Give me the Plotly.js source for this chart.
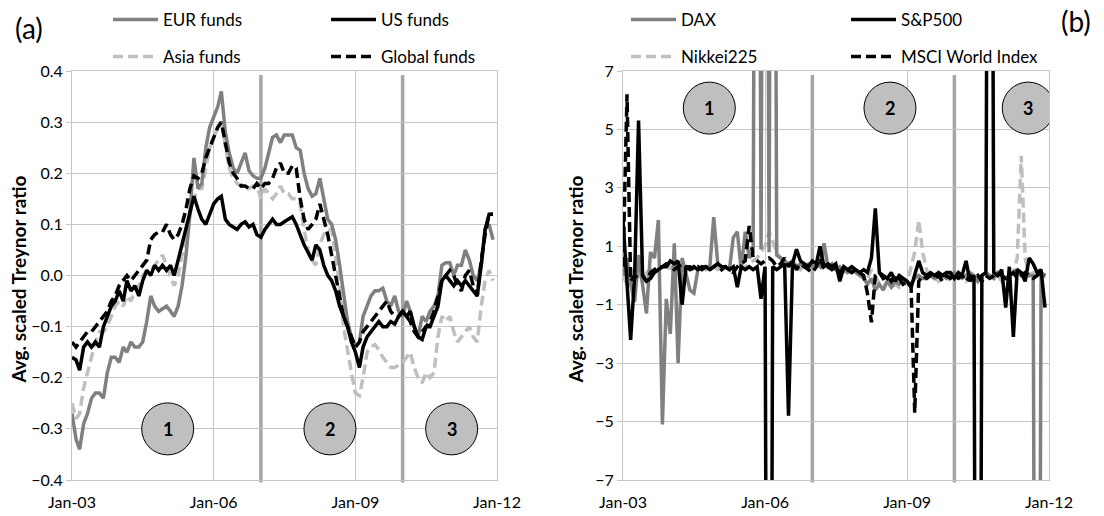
<!DOCTYPE html>
<html>
<head>
<meta charset="utf-8">
<script src="https://cdn.plot.ly/plotly-3.0.1.min.js"></script>
<style>
  html, body { margin: 0; padding: 0; background: #ffffff; }
  #chart { width: 1104px; height: 516px; }
</style>
</head>
<body>
<div id="chart"></div>
<script>
// Monthly observations, Jan 2003 – Dec 2011 (one row per year)
const startYear = 2003;
const monthCount = 108;

// Panel (a): fund averages
const eurFunds = [
  -0.27,-0.32,-0.34,-0.29,-0.27,-0.24,-0.23,-0.23,-0.24,-0.19,-0.16,-0.16,
  -0.17,-0.14,-0.15,-0.13,-0.14,-0.14,-0.13,-0.09,-0.04,-0.06,-0.07,-0.065,
  -0.06,-0.07,-0.08,-0.06,-0.02,0.04,0.12,0.23,0.17,0.18,0.25,0.29,
  0.31,0.33,0.36,0.28,0.24,0.21,0.20,0.22,0.24,0.205,0.195,0.19,
  0.19,0.21,0.24,0.27,0.275,0.26,0.275,0.275,0.275,0.25,0.245,0.20,
  0.17,0.155,0.16,0.19,0.15,0.11,0.10,0.07,0.02,-0.04,-0.09,-0.12,
  -0.14,-0.13,-0.08,-0.06,-0.04,-0.03,-0.03,-0.025,-0.05,-0.06,-0.04,-0.07,
  -0.08,-0.05,-0.07,-0.10,-0.12,-0.08,-0.09,-0.07,-0.06,-0.04,0.02,0.025,
  0.025,0.0,0.02,0.02,0.05,0.03,0.0,-0.01,0.02,0.09,0.10,0.07
];
const usFunds = [
  -0.16,-0.165,-0.185,-0.14,-0.13,-0.14,-0.13,-0.14,-0.10,-0.08,-0.06,-0.05,
  -0.03,-0.05,-0.01,-0.03,-0.02,-0.04,-0.01,0.01,0.0,0.02,0.01,0.02,
  0.01,0.02,0.0,0.03,0.06,0.09,0.12,0.155,0.13,0.11,0.10,0.12,
  0.14,0.15,0.155,0.11,0.10,0.095,0.09,0.10,0.105,0.095,0.10,0.08,
  0.075,0.09,0.10,0.11,0.10,0.10,0.105,0.11,0.115,0.10,0.08,0.06,
  0.045,0.03,0.06,0.05,0.02,0.0,-0.01,-0.03,-0.06,-0.08,-0.10,-0.13,
  -0.15,-0.18,-0.14,-0.12,-0.11,-0.10,-0.09,-0.10,-0.10,-0.09,-0.095,-0.08,
  -0.07,-0.08,-0.07,-0.10,-0.12,-0.125,-0.10,-0.10,-0.08,-0.06,-0.01,0.0,
  -0.01,-0.02,-0.01,-0.02,-0.01,-0.02,-0.03,-0.04,0.02,0.09,0.12,0.12
];
const asiaFunds = [
  -0.25,-0.28,-0.27,-0.22,-0.19,-0.16,-0.13,-0.11,-0.11,-0.10,-0.08,-0.06,
  -0.05,-0.06,-0.04,-0.05,-0.03,-0.02,0.0,0.01,0.01,0.02,0.03,0.04,
  0.02,0.0,-0.02,0.0,0.04,0.07,0.12,0.15,0.17,0.17,0.21,0.25,
  0.27,0.29,0.30,0.25,0.21,0.19,0.18,0.175,0.17,0.17,0.175,0.175,
  0.15,0.17,0.16,0.15,0.16,0.175,0.16,0.16,0.15,0.15,0.14,0.09,
  0.05,0.03,0.02,0.06,0.08,0.09,0.09,0.04,-0.02,-0.10,-0.15,-0.19,
  -0.23,-0.235,-0.20,-0.15,-0.14,-0.135,-0.145,-0.16,-0.17,-0.18,-0.18,-0.175,
  -0.17,-0.16,-0.15,-0.18,-0.20,-0.21,-0.19,-0.20,-0.19,-0.12,-0.08,-0.09,
  -0.08,-0.11,-0.13,-0.12,-0.11,-0.10,-0.12,-0.13,-0.06,-0.01,0.01,-0.01
];
const globalFunds = [
  -0.13,-0.14,-0.13,-0.12,-0.11,-0.11,-0.10,-0.09,-0.08,-0.07,-0.05,-0.04,
  -0.02,-0.01,0.0,-0.01,0.0,0.01,0.02,0.03,0.07,0.08,0.085,0.085,
  0.10,0.08,0.07,0.08,0.10,0.13,0.17,0.195,0.19,0.20,0.23,0.25,
  0.27,0.29,0.30,0.26,0.22,0.20,0.19,0.175,0.175,0.17,0.17,0.18,
  0.17,0.18,0.18,0.19,0.21,0.22,0.20,0.20,0.215,0.21,0.15,0.11,
  0.09,0.10,0.11,0.14,0.11,0.08,0.04,0.0,-0.04,-0.08,-0.10,-0.12,
  -0.14,-0.13,-0.11,-0.10,-0.09,-0.08,-0.07,-0.06,-0.05,-0.07,-0.08,-0.08,
  -0.07,-0.08,-0.09,-0.11,-0.12,-0.11,-0.10,-0.09,-0.07,-0.04,-0.01,0.0,
  0.01,0.0,-0.02,-0.03,0.0,0.01,-0.02,-0.04,0.03,0.08,0.12,0.12
];

// Panel (b): market indices (extreme months run far beyond the axis range)
const dax = [
  0.0,0.6,-0.3,-0.9,0.7,-0.4,-1.3,0.8,0.6,1.9,-5.1,-0.8,
  -2.0,1.1,-3.0,0.6,0.1,-0.5,-0.6,0.2,0.3,0.3,0.3,2.0,
  0.4,0.3,0.3,0.2,1.3,1.5,0.2,1.5,0.6,0.8,40,0.9,
  40,0.8,40,0.7,0.6,0.5,0.4,0.5,0.3,0.4,0.3,0.4,
  0.3,0.4,0.3,1.1,0.3,0.4,0.2,0.3,0.2,0.1,0.2,0.1,
  0.0,-0.1,-0.3,-0.1,-0.5,-0.3,-0.5,-0.2,-0.4,-0.2,-0.3,-0.1,
  -0.2,-0.3,-0.1,0.0,-0.1,-0.1,0.0,-0.1,0.1,0.0,-0.1,0.0,
  0.1,0.0,-0.1,0.0,0.1,0.0,-0.2,0.0,0.1,0.0,-0.1,0.1,
  0.0,-0.1,0.0,0.1,0.2,0.0,0.1,0.0,0.0,-40,0.1,0.0
];
const sp500 = [
  1.9,-0.2,-2.2,0.0,5.3,0.0,-0.2,-0.1,0.1,0.2,0.3,0.3,
  0.5,0.4,0.5,-1.0,0.3,0.2,0.3,0.2,0.3,0.3,0.2,0.3,
  0.4,0.3,0.3,0.2,0.3,-0.4,0.3,0.2,0.3,0.2,0.3,-0.8,
  0.3,-40,0.3,0.2,0.3,0.4,-4.8,0.4,0.9,0.5,0.4,0.3,
  0.5,0.4,1.0,0.3,0.4,0.3,0.4,-0.2,0.3,0.2,0.3,0.2,
  0.1,0.2,0.1,0.6,2.3,0.1,0.0,-0.1,0.1,-0.2,0.0,-0.1,
  -0.2,-0.4,0.0,0.5,0.1,0.0,0.1,0.0,0.1,0.0,0.1,0.1,
  -0.1,0.1,0.0,0.5,-0.2,0.0,-40,0.0,0.1,40,0.1,0.0,
  0.2,-1.1,0.3,-2.1,0.2,0.1,-0.2,0.6,0.4,0.1,0.2,-1.1
];
const nikkei225 = [
  0.0,-0.3,0.3,-0.5,0.2,-0.2,0.1,0.2,0.1,0.2,0.3,0.2,
  0.3,0.1,0.2,0.3,0.2,0.2,0.3,0.2,0.3,0.2,0.3,0.3,
  0.2,0.3,0.2,0.3,0.2,0.3,0.2,0.3,0.4,0.5,0.6,0.8,
  1.0,1.5,1.2,0.8,0.6,0.5,0.4,0.5,0.3,0.2,0.4,0.3,
  0.2,0.3,0.2,0.4,0.3,0.2,0.3,0.2,0.1,0.2,0.1,0.2,
  0.1,0.0,-0.1,0.2,0.0,-0.3,-0.4,-0.2,-0.4,-0.3,-0.4,-0.2,
  -0.3,0.3,0.8,1.9,0.8,0.2,-0.1,0.0,-0.2,-0.1,0.0,-0.2,
  -0.1,0.0,-0.1,-0.2,0.0,-0.1,0.0,-0.2,-0.1,0.0,-0.1,0.0,
  -0.2,-0.1,0.0,0.1,0.6,4.1,0.6,0.0,0.1,0.0,0.1,-0.1
];
const msciWorld = [
  0.3,6.2,-0.2,0.0,-0.1,0.0,-0.2,0.1,0.2,0.3,0.3,0.4,
  0.3,0.2,0.3,0.4,0.3,0.3,0.2,0.3,0.2,0.3,0.2,0.3,
  0.4,0.2,0.3,0.2,0.1,0.3,0.4,0.5,1.7,0.6,0.5,0.4,
  0.5,0.6,0.5,0.3,0.4,0.6,0.3,0.5,0.2,0.4,0.3,0.2,
  0.1,0.3,0.6,0.2,0.3,0.2,0.3,0.1,0.3,0.2,0.1,0.2,
  0.1,0.0,-0.6,-1.6,0.0,0.1,-0.1,0.0,-0.2,0.0,-0.1,-0.3,
  -0.2,-0.4,-4.7,-0.2,0.0,-0.1,0.0,-0.1,0.0,-0.2,0.0,-0.1,
  0.0,-0.1,0.0,-0.2,0.0,-0.1,0.0,-0.2,0.0,-0.1,0.0,0.1,
  0.0,-0.1,0.0,0.1,-0.1,0.0,0.1,0.0,-0.1,0.0,0.1,0.0
];

// Axis ticks
const xTickVals = ['2003-01-01', '2006-01-01', '2009-01-01', '2012-01-01'];
const xTickText = ['Jan-03', 'Jan-06', 'Jan-09', 'Jan-12'];
const yTicksA = [-0.4, -0.3, -0.2, -0.1, 0.0, 0.1, 0.2, 0.3, 0.4];
const yTicksB = [-7, -5, -3, -1, 1, 3, 5, 7];
const yTitle = 'Avg. scaled Treynor ratio';

// Regime boundaries and regime labels
const regimeBreaks = ['2007-01-01', '2010-01-01'];
const regimeLabels = ['1', '2', '3'];
const regimeDatesA = ['2005-01-10', '2008-06-18', '2011-01-15'];
const regimeDatesB = ['2004-10-28', '2008-08-22', '2011-07-25'];
const regimeLevelA = -0.30;
const regimeLevelB = 5.73;

const months = [];
for (let i = 0; i < monthCount; i++) {
  const y = startYear + Math.floor(i / 12);
  const m = (i % 12) + 1;
  months.push(y + '-' + String(m).padStart(2, '0') + '-01');
}

const FONT = 'Lato, "Open Sans", sans-serif';
const GREY = '#808080';
const LIGHT = '#bfbfbf';
const LW = 3.5;
const DASH = '10px,5px';

function series(name, y, color, dash, xa, ya, legendId) {
  return {
    type: 'scatter', mode: 'lines', name: name,
    x: months, y: y, xaxis: xa, yaxis: ya,
    line: { color: color, width: LW, dash: dash },
    legend: legendId, hoverinfo: 'skip'
  };
}

const data = [
  series('Asia funds', asiaFunds, LIGHT, DASH, 'x', 'y', 'legend3'),
  series('EUR funds', eurFunds, GREY, 'solid', 'x', 'y', 'legend'),
  series('Global funds', globalFunds, '#000000', DASH, 'x', 'y', 'legend4'),
  series('US funds', usFunds, '#000000', 'solid', 'x', 'y', 'legend2'),
  series('Nikkei225', nikkei225, LIGHT, DASH, 'x2', 'y2', 'legend7'),
  series('DAX', dax, GREY, 'solid', 'x2', 'y2', 'legend5'),
  series('MSCI World Index', msciWorld, '#000000', DASH, 'x2', 'y2', 'legend8'),
  series('S&P500', sp500, '#000000', 'solid', 'x2', 'y2', 'legend6')
];

// Plot-area geometry in pixels (margins are held fixed)
const W = 1104, H = 516;
const PLOT_L = 72, PLOT_R = 1049, PLOT_T = 71, PLOT_B = 480;
const px = v => (v - PLOT_L) / (PLOT_R - PLOT_L);
const py = v => (PLOT_B - v) / (PLOT_B - PLOT_T);

// Each legend entry is its own small legend above its panel
function legendAt(xPix, yPix) {
  return {
    x: px(xPix), y: py(yPix), xanchor: 'left', yanchor: 'middle',
    bgcolor: 'rgba(0,0,0,0)', borderwidth: 0, itemwidth: 45,
    font: { family: FONT, size: 17, color: '#000000' },
    itemclick: false, itemdoubleclick: false
  };
}

const gridColor = '#c6c6c6';
function xAxis(domain, anchor) {
  return {
    domain: domain, anchor: anchor, type: 'date',
    range: ['2003-01-01', '2012-01-01'],
    tickmode: 'array', tickvals: xTickVals, ticktext: xTickText,
    showgrid: true, gridcolor: gridColor, gridwidth: 1,
    showline: true, mirror: true, linecolor: gridColor, linewidth: 1,
    ticks: '', zeroline: false, ticklabelstandoff: 8,
    tickfont: { family: FONT, size: 16, color: '#000000' }
  };
}
function yAxis(anchor, range, ticks, fmt) {
  return {
    domain: [0, 1], anchor: anchor, range: range,
    tickmode: 'array', tickvals: ticks, tickformat: fmt,
    showgrid: true, gridcolor: gridColor, gridwidth: 1,
    showline: true, mirror: true, linecolor: gridColor, linewidth: 1,
    ticks: 'outside', ticklen: 5, tickcolor: gridColor,
    zeroline: false,
    tickfont: { family: FONT, size: 16, color: '#000000' }
  };
}

const shapes = [];
const annotations = [];
[['x', 'y'], ['x2', 'y2']].forEach(([xa, ya], k) => {
  regimeBreaks.forEach(d => {
    shapes.push({
      type: 'line', layer: 'below', xref: xa, yref: ya + ' domain',
      x0: d, x1: d, y0: -0.006, y1: 0.99,
      line: { color: '#a6a6a6', width: 3.5 }
    });
  });
  const dates = k === 0 ? regimeDatesA : regimeDatesB;
  const level = k === 0 ? regimeLevelA : regimeLevelB;
  dates.forEach((d, i) => {
    shapes.push({
      type: 'circle', layer: 'above', xref: xa, yref: ya,
      xsizemode: 'pixel', ysizemode: 'pixel',
      xanchor: d, yanchor: level,
      x0: -26, x1: 26, y0: -26, y1: 26,
      fillcolor: '#bfbfbf', line: { color: '#000000', width: 1 }
    });
    annotations.push({
      xref: xa, yref: ya, x: d, y: level, text: regimeLabels[i],
      showarrow: false, xanchor: 'center', yanchor: 'middle',
      font: { family: FONT, size: 18, color: '#000000', weight: 'bold' }
    });
  });
  // vertical axis title for this panel
  annotations.push({
    xref: xa + ' domain', yref: ya + ' domain',
    x: 0, y: 0.49, xshift: k === 0 ? -53 : -47,
    text: yTitle, textangle: -90, showarrow: false,
    xanchor: 'center', yanchor: 'middle',
    font: { family: FONT, size: 19, color: '#000000', weight: 'bold' }
  });
});

annotations.push({
  xref: 'paper', yref: 'paper', x: px(13), y: py(28), text: '(a)',
  showarrow: false, xanchor: 'left', yanchor: 'middle',
  font: { family: FONT, size: 28, color: '#000000' }
});
annotations.push({
  xref: 'paper', yref: 'paper', x: px(1093), y: py(21), text: '(b)',
  showarrow: false, xanchor: 'right', yanchor: 'middle',
  font: { family: FONT, size: 28, color: '#000000' }
});

const layout = {
  width: W, height: H,
  margin: { l: PLOT_L, r: W - PLOT_R, t: PLOT_T, b: H - PLOT_B, pad: 0, autoexpand: false },
  paper_bgcolor: '#ffffff', plot_bgcolor: '#ffffff',
  font: { family: FONT, color: '#000000' },
  showlegend: true,
  xaxis: xAxis([0, px(497)], 'y'),
  yaxis: yAxis('x', [-0.4, 0.4], yTicksA, '.1f'),
  xaxis2: xAxis([px(623), 1], 'y2'),
  yaxis2: yAxis('x2', [-7, 7], yTicksB, 'd'),
  legend: legendAt(108, 20),
  legend2: legendAt(326, 20),
  legend3: legendAt(108, 57),
  legend4: legendAt(326, 57),
  legend5: legendAt(626, 20),
  legend6: legendAt(846, 20),
  legend7: legendAt(626, 57),
  legend8: legendAt(846, 57),
  shapes: shapes,
  annotations: annotations
};

Plotly.newPlot('chart', data, layout, { staticPlot: true, displayModeBar: false });
</script>
</body>
</html>
